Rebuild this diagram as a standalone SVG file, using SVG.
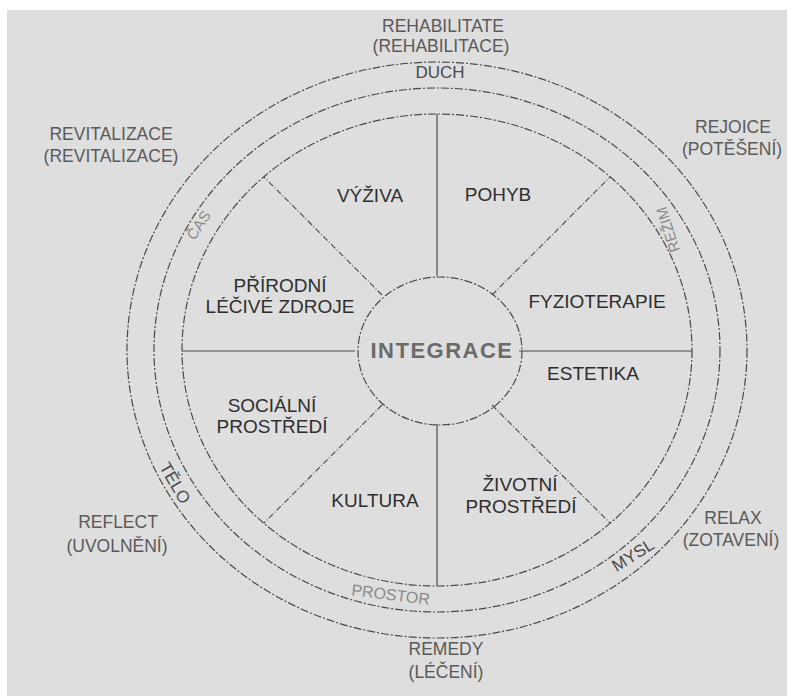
<svg xmlns="http://www.w3.org/2000/svg" width="792" height="697" viewBox="0 0 792 697">
<style>
.ring{fill:none;stroke:#4a4a4a;stroke-width:1.2;stroke-dasharray:8 2 2 2}
.sp{stroke:#4a4a4a;stroke-width:1.2;fill:none}
.dsp{stroke:#4a4a4a;stroke-width:1.1;stroke-dasharray:6 2 1 2;fill:none}
.sec{font-family:"Liberation Sans",Arial,sans-serif;font-size:19px;fill:#2e2e2e;text-anchor:middle}
.out{font-family:"Liberation Sans",Arial,sans-serif;font-size:17.5px;fill:#5a5a5a;text-anchor:middle}
.r1{font-family:"Liberation Sans",Arial,sans-serif;font-size:17px;fill:#4a4a4a;text-anchor:middle}
.r2{font-family:"Liberation Sans",Arial,sans-serif;font-size:15px;fill:#8a8a8a;text-anchor:middle}
.int{font-family:"Liberation Sans",Arial,sans-serif;font-size:22px;font-weight:bold;fill:#6a6a6a;text-anchor:middle;letter-spacing:1.5px}
</style>
<rect x="0" y="0" width="792" height="697" fill="#ffffff"/>
<rect x="7" y="10" width="780" height="686" fill="#dedede"/>
<g id="rings">
<ellipse class="ring" cx="437" cy="350" rx="310" ry="288"/>
<ellipse class="ring" cx="437" cy="350" rx="283" ry="262"/>
<ellipse class="ring" cx="437" cy="350" rx="255" ry="236"/>
</g>
<g id="connectors">
<line class="sp" x1="437" y1="114" x2="437" y2="276"/>
<line class="sp" x1="437" y1="424" x2="437" y2="586"/>
<line class="sp" x1="182" y1="351" x2="355" y2="351"/>
<line class="sp" x1="519" y1="351" x2="692" y2="351"/>
<line class="dsp" x1="382" y1="295" x2="264" y2="177"/>
<line class="dsp" x1="492" y1="295" x2="610" y2="177"/>
<line class="dsp" x1="382" y1="405" x2="264" y2="523"/>
<line class="dsp" x1="492" y1="405" x2="610" y2="523"/>
</g>
<g id="integrace">
<ellipse class="ring" cx="440" cy="351" rx="82" ry="74"/>
<text class="int" x="442" y="358">INTEGRACE</text>
</g>
<g id="vyziva"><text class="sec" x="370" y="202">VÝŽIVA</text></g>
<g id="pohyb"><text class="sec" x="498" y="201">POHYB</text></g>
<g id="fyzioterapie"><text class="sec" x="597" y="308">FYZIOTERAPIE</text></g>
<g id="estetika"><text class="sec" x="593" y="380">ESTETIKA</text></g>
<g id="zivotni"><text class="sec" x="520" y="491">ŽIVOTNÍ</text><text class="sec" x="521" y="513">PROSTŘEDÍ</text></g>
<g id="kultura"><text class="sec" x="375" y="507">KULTURA</text></g>
<g id="socialni"><text class="sec" x="272" y="412">SOCIÁLNÍ</text><text class="sec" x="272" y="433">PROSTŘEDÍ</text></g>
<g id="prirodni"><text class="sec" x="280" y="292">PŘÍRODNÍ</text><text class="sec" x="280" y="313">LÉČIVÉ ZDROJE</text></g>
<g id="ring-labels">
<text class="r1" x="440" y="78">DUCH</text>
<text class="r1" transform="translate(170,486) rotate(60)">TĚLO</text>
<text class="r1" transform="translate(636,560) rotate(-32)">MYSL</text>
<text class="r2" transform="translate(203,228) rotate(-57)">ČAS</text>
<text class="r2" transform="translate(673,228) rotate(-108)">REŽIM</text>
<text class="r2" style="font-size:16px" transform="translate(390,600) rotate(7)">PROSTOR</text>
</g>
<g id="outer-labels">
<text class="out" x="443" y="32">REHABILITATE</text>
<text class="out" x="441" y="52">(REHABILITACE)</text>
<text class="out" x="111" y="140">REVITALIZACE</text>
<text class="out" x="111" y="162">(REVITALIZACE)</text>
<text class="out" x="733" y="133">REJOICE</text>
<text class="out" x="732" y="155">(POTĚŠENÍ)</text>
<text class="out" x="118" y="528">REFLECT</text>
<text class="out" x="117" y="552">(UVOLNĚNÍ)</text>
<text class="out" x="733" y="524">RELAX</text>
<text class="out" x="731" y="546">(ZOTAVENÍ)</text>
<text class="out" x="446" y="655">REMEDY</text>
<text class="out" x="446" y="678">(LÉČENÍ)</text>
</g>
</svg>
